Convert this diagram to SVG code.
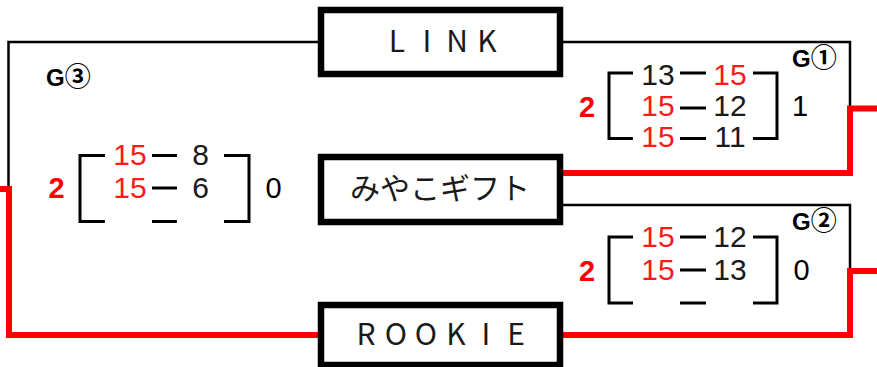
<svg xmlns="http://www.w3.org/2000/svg" width="877" height="367" viewBox="0 0 877 367">
<style>
.bk{fill:none;stroke:#000;stroke-width:2.5}
.rd{fill:none;stroke:#ff0000;stroke-width:6}
.box{fill:#fff;stroke:#000;stroke-width:6.5}
.lbl{font-family:"Noto Sans CJK JP",sans-serif;font-size:30px;fill:#1a1a1a;text-anchor:middle}
.br{fill:none;stroke:#000;stroke-width:3}
.sc{font-family:"Liberation Sans",Arial,sans-serif;font-size:30px;text-anchor:middle;fill:#1a1a1a}
.r{fill:#ff1a1a}
.win{font-family:"Liberation Sans",Arial,sans-serif;font-size:29px;font-weight:bold;text-anchor:middle;fill:#ff0000}
.lose{font-family:"Liberation Sans",Arial,sans-serif;font-size:29px;text-anchor:middle;fill:#000}
.g{font-family:"Noto Sans CJK JP",sans-serif;font-size:26px;font-weight:bold;fill:#000}
.gg{font-family:"Liberation Sans",Arial,sans-serif;font-size:24px;font-weight:bold}
</style>
<rect width="877" height="367" fill="#fff"/>
<g id="connectors">
<path class="bk" d="M321,42 H8.5 V189"/>
<path class="bk" d="M560,42 H850 V108.5"/>
<path class="bk" d="M560,205 H850 V271"/>
<path class="rd" d="M0,189 H9 V335 H321"/>
<path class="rd" d="M560,173 H850 V108.5 H877"/>
<path class="rd" d="M560,335 H850 V271 H877"/>
</g>
<g id="node-link">
<rect class="box" x="321" y="10" width="239" height="64"/>
<text class="lbl" x="397 427 457 487" y="52">LINK</text>
</g>
<g id="node-miyako">
<rect class="box" x="321" y="157" width="239" height="65"/>
<text class="lbl" x="440" y="199">みやこギフト</text>
</g>
<g id="node-rookie">
<rect class="box" x="321" y="305" width="239" height="60"/>
<text class="lbl" x="366 396 426 456 486 516" y="345">ROOKIE</text>
</g>
<g id="game1">
<text class="g" x="792" y="67"><tspan class="gg">G</tspan>①</text>
<path class="br" d="M633,73 H609 V138.5 H633 M753,73 H777 V138.5 H753 M680,73 H706 M680,108 H706 M680,138.5 H706"/>
<text class="sc" x="658" y="85">13</text><text class="sc r" x="730" y="85">15</text>
<text class="sc r" x="658" y="116">15</text><text class="sc" x="730" y="116">12</text>
<text class="sc r" x="658" y="147">15</text><text class="sc" x="730" y="147">11</text>
<text class="win" x="587" y="117">2</text>
<text class="lose" x="800" y="116">1</text>
</g>
<g id="game2">
<text class="g" x="792" y="230"><tspan class="gg">G</tspan>②</text>
<path class="br" d="M633,237 H609 V303 H633 M753,237 H777 V303 H753 M680,237 H706 M680,270 H706 M680,303 H706"/>
<text class="sc r" x="658" y="247">15</text><text class="sc" x="730" y="247">12</text>
<text class="sc r" x="658" y="280">15</text><text class="sc" x="730" y="280">13</text>
<text class="win" x="587" y="281">2</text>
<text class="lose" x="801.5" y="280">0</text>
</g>
<g id="game3">
<text class="g" x="46" y="86"><tspan class="gg">G</tspan>③</text>
<path class="br" d="M105,155.5 H80 V221.5 H105 M224,155.5 H249 V221.5 H224 M152,155.5 H177 M152,188 H177 M152,221.5 H177"/>
<text class="sc r" x="130" y="165">15</text><text class="sc" x="200.5" y="165">8</text>
<text class="sc r" x="130" y="198">15</text><text class="sc" x="200.5" y="198">6</text>
<text class="win" x="56.5" y="198">2</text>
<text class="lose" x="273.5" y="198">0</text>
</g>
</svg>
